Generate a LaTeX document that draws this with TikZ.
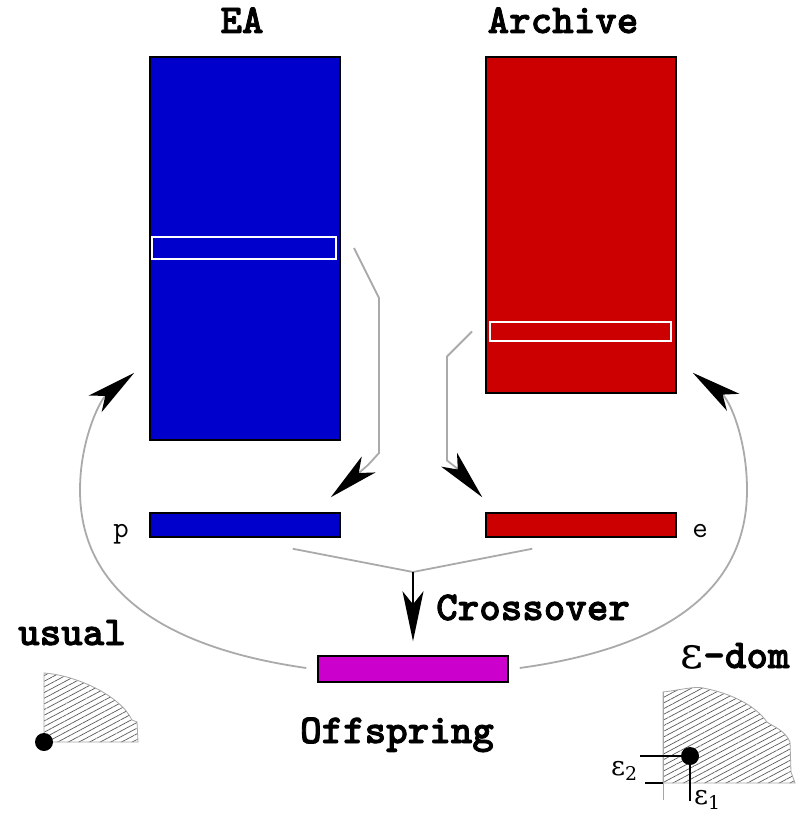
\documentclass[tikz,border=0pt]{standalone}
\usepackage{fontspec}
\newfontfamily\grkfont{DejaVu Serif}
\newfontfamily\courbd{lmmonolt10-bold.otf}[FakeBold=2]
\usetikzlibrary{arrows.meta,patterns.meta}
\definecolor{eablue}{RGB}{0,0,204}
\definecolor{arred}{RGB}{204,0,0}
\definecolor{offmag}{RGB}{204,0,204}
\definecolor{wiregray}{RGB}{170,170,170}
\newcommand\bigtt{\fontsize{41}{45}\selectfont\courbd}
\newcommand\smalltt{\fontsize{30}{34}\selectfont\ttfamily}
\newcommand\epsfont{\fontsize{27}{30}\selectfont\grkfont}

\begin{document}
\begin{tikzpicture}[x=1pt,y=-1pt,
  pop/.style={draw=black,line width=1.5pt,inner sep=0pt,minimum width=190pt},
  sel/.style={draw=white,line width=2pt,inner sep=0pt},
  lab/.style={inner sep=0pt,anchor=base,font=\bigtt},
  slab/.style={inner sep=0pt,anchor=base,font=\smalltt},
  elab/.style={inner sep=0pt,anchor=base west,font=\epsfont},
  wire/.style={draw=wiregray,line width=1.8pt},
  tip/.style={-{Stealth[length=50pt,width=21pt,inset=13pt,color=black]}},
  hatch/.style={draw=gray!70,line width=0.8pt,
    pattern={Lines[angle=28,distance=5pt,line width=0.7pt]},pattern color=gray!70!black},
  dot/.style={circle,fill=black,inner sep=0pt,minimum size=18pt}
]
\useasboundingbox (0,0) rectangle (802,818);

% populations
\node[pop,fill=eablue,minimum height=383pt] (ea) at (245,248.5) {};
\node[sel,minimum width=184pt,minimum height=22pt] (easel) at (244,248) {};
\node[pop,fill=arred,minimum height=336pt] (ar) at (581,225) {};
\node[sel,minimum width=181pt,minimum height=19pt] (arsel) at (580.5,331.5) {};
\node[pop,fill=eablue,minimum height=24pt] (p) at (245,525) {};
\node[pop,fill=arred,minimum height=24pt] (e) at (581,525) {};
\node[pop,fill=offmag,minimum height=26pt] (off) at (413,669) {};

% labels
\node[lab] (eaname) at (242,33) {EA};
\node[lab] (arname) at (563,33) {Archive};
\node[slab] (pname) at (121,537) {p};
\node[slab] (ename) at (700,537) {e};
\node[lab,anchor=base west] (xover) at (436,620) {Crossover};
\node[lab] (offname) at (397,743) {Offspring};
\node[lab] (usual) at (72,645) {usual};
\node[lab] (edom) at (735,668) {{\fontsize{44}{48}\selectfont\grkfont ε}-dom};

% selection into the mating pools
\draw[wire,tip] ([xshift=17pt]easel.east) -- ++(25,50) -- ++(0,155) -- ++(-11,12)
  -- ([xshift=-10pt,yshift=15pt]p.north east);
\draw[wire,tip] ([xshift=-17pt]arsel.west) -- ++(-25,25) -- ++(0,104) -- ++(9,7)
  -- ([xshift=-3pt,yshift=15pt]e.north west);

% crossover
\coordinate (mix) at (413,572);
\draw[wire] ([xshift=-48pt,yshift=-11pt]p.south east) -- (mix)
  -- ([xshift=47pt,yshift=-11pt]e.south west);
\draw[line width=1.5pt,tip] (mix) -- ([yshift=14pt]off.north);

% offspring back to the populations
\draw[wire,tip] ([xshift=-11pt,yshift=1pt]off.west)
  .. controls (180,650) and (80,600) .. (80,490)
  .. controls (80,440) and (100,400) .. ([xshift=-15pt,yshift=68pt]ea.south west);
\draw[wire,tip] ([xshift=11pt,yshift=1pt]off.east)
  .. controls (650,650) and (747,600) .. (747,490)
  .. controls (747,440) and (730,400) .. ([xshift=16pt,yshift=21pt]ar.south east);

% usual dominance region
\path[hatch] (44,742) -- (44,673) .. controls (75,675) and (120,695) .. (132,720)
  -- (137,722) -- (138,742) -- cycle;
\node[dot] (udot) at (44,742) {};

% epsilon dominance region
\path[hatch] (663,783) -- (663,692) .. controls (680,690) and (695,686) .. (703,688)
  .. controls (730,693) and (755,705) .. (767,722)
  .. controls (772,726) and (785,730) .. (790,742) -- (791,772) -- (795,783) -- cycle;
\coordinate (axtop) at (663,692);
\coordinate (axbot) at (663,800);
\draw[gray!70,line width=1pt] (axtop) -- (axbot);
\node[dot] (edot) at (690,756) {};
\coordinate (e2a) at (640,756);
\coordinate (e2b) at (645,783);
\coordinate (e2c) at (663,783);
\coordinate (e1) at (690,801);
\draw[line width=1.5pt] (e2a) -- (edot.center) -- (e1);
\draw[line width=1.5pt] (e2b) -- (e2c);
\node[elab] (eps2) at (611,775) {ε\textsubscript{2}};
\node[elab] (eps1) at (694,804) {ε\textsubscript{1}};
\end{tikzpicture}
\end{document}
